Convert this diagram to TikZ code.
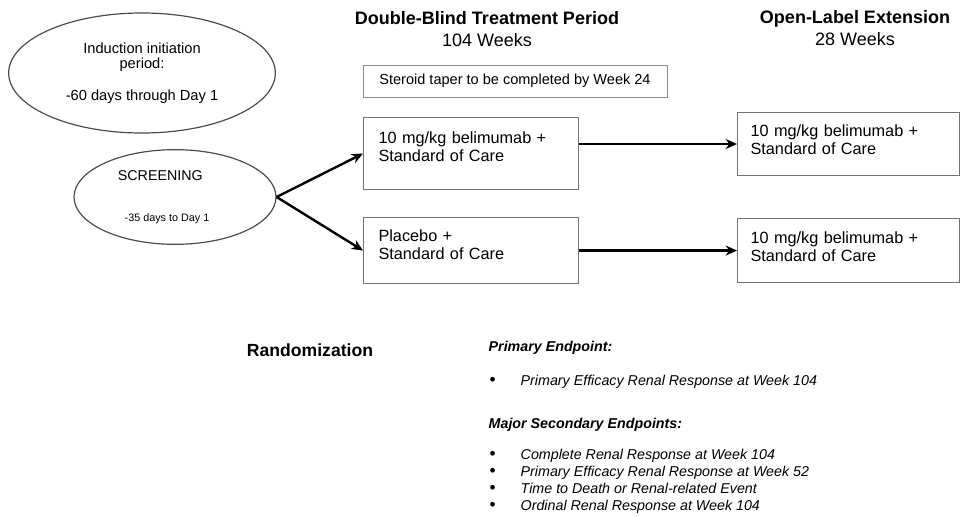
\documentclass[tikz,border=0pt]{standalone}
\usepackage{fontspec}
\setmainfont{Liberation Sans}
\usetikzlibrary{shapes.geometric, arrows.meta, positioning}

\newcommand{\bulletmark}{\makebox[23.25pt][l]{\fontsize{13}{13}\selectfont\textbullet}}

\begin{document}
\begin{tikzpicture}[
    x=0.75pt, y=-0.75pt,
    phase/.style={ellipse, draw=black!70, line width=0.9pt, inner sep=0pt,
                  align=center},
    arm/.style={rectangle, draw=black!55, line width=0.8pt, anchor=north west,
                align=left, font=\fontsize{12.2}{13.5}\selectfont},
    note/.style={rectangle, draw=black!45, line width=0.7pt, minimum width=228pt,
                 minimum height=24pt, font=\fontsize{10.9}{12}\selectfont},
    period/.style={align=center, font=\fontsize{13.5}{16.5}\selectfont},
    arrow/.style={-{Stealth[length=8.5pt, width=7.5pt]}, line width=1.8pt},
    head/.style={anchor=west, text height=8pt, text depth=2.5pt,
                 font=\fontsize{10.7}{12.75}\selectfont\bfseries\itshape},
    item/.style={anchor=west, text height=8pt, text depth=2.5pt,
                 font=\fontsize{10.7}{12.75}\selectfont},
]
\useasboundingbox (0,0) rectangle (961,517);

% ---------- Phase headings ----------
\node[period] (dbtitle) at (487,29) {\textbf{Double-Blind Treatment Period}\\104 Weeks};
\node[period] (oltitle) at (855,28) {\textbf{Open-Label Extension}\\28 Weeks};

% ---------- Left: run-in phases ----------
\node[phase, minimum width=200pt, minimum height=90pt,
      font=\fontsize{11}{11.25}\selectfont] (induct) at (142,73)
      {Induction initiation\\period:\\[12.75pt]-60 days through Day 1};
\node[phase, minimum width=151.5pt, minimum height=71pt,
      font=\fontsize{10.7}{12.8}\selectfont] (screen) at (175,197)
      {SCREENING\rule{22pt}{0pt}\\[18pt]{\fontsize{8.1}{9}\selectfont -35 days to Day 1}\rule{12pt}{0pt}};

% ---------- Middle: double-blind arms ----------
\node[note] (taper) at (515,81) {Steroid taper to be completed by Week 24};
\node[arm, minimum height=54pt, text width=138.75pt, inner xsep=11.25pt,
      text depth=24pt] (armbel) at (363,117) {10 mg/kg belimumab +\\Standard of Care};
\node[arm, minimum height=49.5pt, text width=138.75pt, inner xsep=11.25pt,
      text depth=22.5pt] (armpbo) at (363,217) {Placebo +\\Standard of Care};

% ---------- Right: open-label extension ----------
\node[arm, minimum height=47.25pt, text width=147pt, inner xsep=9.75pt,
      text depth=20pt] (olbel) at (737,112) {10 mg/kg belimumab +\\Standard of Care};
\node[arm, minimum height=48pt, text width=147pt, inner xsep=9.75pt,
      text depth=19.5pt] (olpbo) at (737,218) {10 mg/kg belimumab +\\Standard of Care};

% ---------- Randomization + endpoints ----------
\node[font=\fontsize{13.2}{15}\selectfont\bfseries] (rand) at (310,350) {Randomization};
\node[head] (prim) at (484,348) {Primary Endpoint:};
\node[item] (prim1) at (485,382) {\bulletmark\textit{Primary Efficacy Renal Response at Week 104}};
\node[head] (sec) at (484,425) {Major Secondary Endpoints:};
\node[item] (sec1) at (485,456) {\bulletmark\textit{Complete Renal Response at Week 104}};
\node[item] (sec2) at (485,473) {\bulletmark\textit{Primary Efficacy Renal Response at Week 52}};
\node[item] (sec3) at (485,490) {\bulletmark\textit{Time to Death or Renal-related Event}};
\node[item] (sec4) at (485,507) {\bulletmark\textit{Ordinal Renal Response at Week 104}};

% ---------- Randomization split ----------
\draw[arrow] (screen.east) -- (armbel.west);
\draw[arrow] (screen.east) -- (armpbo.west);

% ---------- Into the extension ----------
\draw[arrow] (armbel.east |- olbel.west) -- (olbel.west);
\draw[arrow] (armpbo.east |- olpbo.west) -- (olpbo.west);

\end{tikzpicture}
\end{document}
